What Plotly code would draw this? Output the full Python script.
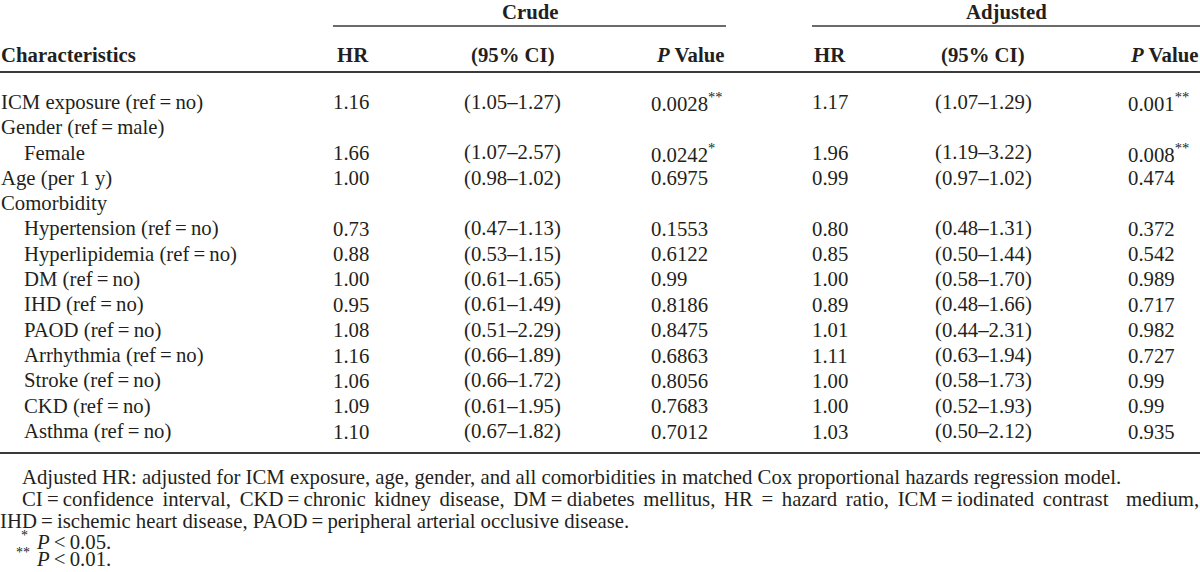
import plotly.graph_objects as go

# ---------------- data ----------------
group_headers = ["Crude", "Adjusted"]
col_headers = ["Characteristics", "HR", "(95% CI)", "<i>P</i> Value", "HR", "(95% CI)", "<i>P</i> Value"]

characteristics = [
    "ICM exposure (ref\u2009=\u2009no)",
    "Gender (ref\u2009=\u2009male)",
    "Female",
    "Age (per 1 y)",
    "Comorbidity",
    "Hypertension (ref\u2009=\u2009no)",
    "Hyperlipidemia (ref\u2009=\u2009no)",
    "DM (ref\u2009=\u2009no)",
    "IHD (ref\u2009=\u2009no)",
    "PAOD (ref\u2009=\u2009no)",
    "Arrhythmia (ref\u2009=\u2009no)",
    "Stroke (ref\u2009=\u2009no)",
    "CKD (ref\u2009=\u2009no)",
    "Asthma (ref\u2009=\u2009no)",
]
row_level = [0, 0, 1, 0, 0, 1, 1, 1, 1, 1, 1, 1, 1, 1]

crude_hr = [1.16, None, 1.66, 1.00, None, 0.73, 0.88, 1.00, 0.95, 1.08, 1.16, 1.06, 1.09, 1.10]
crude_lo = [1.05, None, 1.07, 0.98, None, 0.47, 0.53, 0.61, 0.61, 0.51, 0.66, 0.66, 0.61, 0.67]
crude_hi = [1.27, None, 2.57, 1.02, None, 1.13, 1.15, 1.65, 1.49, 2.29, 1.89, 1.72, 1.95, 1.82]
crude_p = ["0.0028", None, "0.0242", "0.6975", None, "0.1553", "0.6122", "0.99", "0.8186",
           "0.8475", "0.6863", "0.8056", "0.7683", "0.7012"]
crude_sig = ["**", None, "*", "", None, "", "", "", "", "", "", "", "", ""]

adj_hr = [1.17, None, 1.96, 0.99, None, 0.80, 0.85, 1.00, 0.89, 1.01, 1.11, 1.00, 1.00, 1.03]
adj_lo = [1.07, None, 1.19, 0.97, None, 0.48, 0.50, 0.58, 0.48, 0.44, 0.63, 0.58, 0.52, 0.50]
adj_hi = [1.29, None, 3.22, 1.02, None, 1.31, 1.44, 1.70, 1.66, 2.31, 1.94, 1.73, 1.93, 2.12]
adj_p = ["0.001", None, "0.008", "0.474", None, "0.372", "0.542", "0.989", "0.717",
         "0.982", "0.727", "0.99", "0.99", "0.935"]
adj_sig = ["**", None, "**", "", None, "", "", "", "", "", "", "", "", ""]

G = " \u200a\u200a"  # widened word gap for the justified line
footnote1 = "Adjusted HR: adjusted for ICM exposure, age, gender, and all comorbidities in matched Cox proportional hazards regression model."
footnote2_words = ["CI\u2009=\u2009confidence", "interval,", "CKD\u2009=\u2009chronic", "kidney", "disease,",
                   "DM\u2009=\u2009diabetes", "mellitus,", "HR", "=", "hazard", "ratio,",
                   "ICM\u2009=\u2009iodinated", "contrast"]
footnote2_last = "medium,"
footnote3 = "IHD\u2009=\u2009ischemic heart disease, PAOD\u2009=\u2009peripheral arterial occlusive disease."
sig_notes = [("*", "0.05"), ("**", "0.01")]

# ---------------- layout constants ----------------
W, H = 1200, 572
FONT = "Liberation Serif, Times New Roman, serif"
FS = 20.75
TXT = "#231f20"
LINE = "#3a3a3a"

row_y0, row_dy = 102, 25.35
header_y = 55
group_y = 12
x_char, indent = 1, 23
crude_cols = {"hr": 333, "ci": 464, "p": 651}
adj_cols = {"hr": 812, "ci": 935, "p": 1128}

fig = go.Figure()
fig.add_trace(go.Scatter(x=[0, W], y=[0, H], mode="markers", marker=dict(opacity=0), hoverinfo="skip",
                         showlegend=False))

ann = []


def add(text, x, y, xanchor="left", bold=False, size=FS):
    if bold:
        text = "<b>" + text + "</b>"
    ann.append(dict(text=text, x=x, y=y, xref="x", yref="y", xanchor=xanchor, yanchor="middle",
                    showarrow=False, font=dict(family=FONT, size=size, color=TXT),
                    borderpad=0, borderwidth=0))


# group headers
add(group_headers[0], 530, group_y, "center", bold=True)
add(group_headers[1], 1006, group_y, "center", bold=True)

# column headers
add(col_headers[0], x_char, header_y, "left", bold=True)
add(col_headers[1], 337, header_y, "left", bold=True)
add(col_headers[2], 513, header_y, "center", bold=True)
add(col_headers[3], 724, header_y, "right", bold=True)
add(col_headers[4], 814, header_y, "left", bold=True)
add(col_headers[5], 983, header_y, "center", bold=True)
add(col_headers[6], 1198, header_y, "right", bold=True)

for i, name in enumerate(characteristics):
    y = row_y0 + i * row_dy
    add(name, x_char + indent * row_level[i], y)
    for cols, hr, lo, hi, p, sig in [
        (crude_cols, crude_hr, crude_lo, crude_hi, crude_p, crude_sig),
        (adj_cols, adj_hr, adj_lo, adj_hi, adj_p, adj_sig),
    ]:
        if hr[i] is None:
            continue
        add(f"{hr[i]:.2f}", cols["hr"], y)
        add(f"({lo[i]:.2f}\u2013{hi[i]:.2f})", cols["ci"], y)
        ptxt = p[i] + (f"<sup>{sig[i]}</sup>" if sig[i] else "")
        add(ptxt, cols["p"], y)

# footnotes
add(footnote1, 22, 477)
add(G.join(footnote2_words), 22, 499)
add(footnote2_last, 1199, 499, "right")
add(footnote3, 0, 521)
for (mark, thr), y, xs in zip(sig_notes, [542, 559], [21, 16]):
    add(mark, xs, y - 7, size=14)
    add(f"<i>P</i>\u2009<\u2009{thr}.", 36, y)

shapes = [
    dict(type="line", x0=333, x1=726, y0=26, y1=26, xref="x", yref="y", line=dict(color=LINE, width=1.5)),
    dict(type="line", x0=812, x1=1200, y0=26, y1=26, xref="x", yref="y", line=dict(color=LINE, width=1.5)),
    dict(type="line", x0=0, x1=1200, y0=72, y1=72, xref="x", yref="y", line=dict(color=LINE, width=2)),
    dict(type="line", x0=0, x1=1200, y0=453, y1=453, xref="x", yref="y", line=dict(color=LINE, width=2)),
]

fig.update_layout(
    width=W, height=H,
    margin=dict(l=0, r=0, t=0, b=0),
    paper_bgcolor="white", plot_bgcolor="white",
    xaxis=dict(range=[0, W], visible=False, fixedrange=True),
    yaxis=dict(range=[H, 0], visible=False, fixedrange=True),
    annotations=ann, shapes=shapes, showlegend=False,
)

fig.write_html("out.html", config={"displayModeBar": False},
               post_script="document.body.style.margin='0';document.body.style.overflow='hidden';")
